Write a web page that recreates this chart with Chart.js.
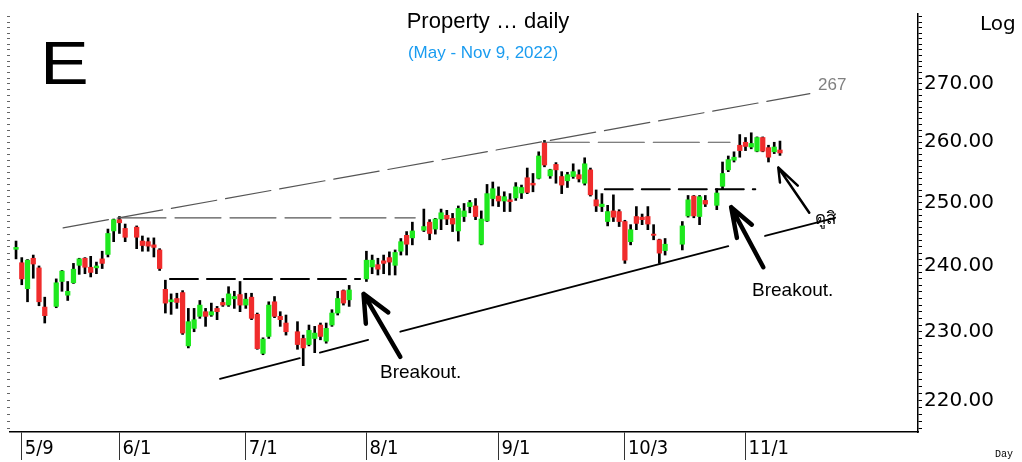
<!DOCTYPE html>
<html>
<head>
<meta charset="utf-8">
<script src="https://cdn.jsdelivr.net/npm/chart.js@4.4.0/dist/chart.umd.min.js"></script>
<style>html,body{margin:0;padding:0;background:#fff}canvas{display:block}</style>
</head>
<body>
<canvas id="c" width="1022" height="462"></canvas>
<script>
// one slot per weekday from 5/6/2022 to 11/9/2022, null = market holiday
const OPEN  = [242.6,240.5,236.5,241.2,239.7,233.7,null,233.8,237.6,235.5,237.4,240.1,241.2,239.8,239.7,241.1,241.8,245.5,247.3,245.9,null,246.1,243.9,243.8,243.3,242.5,236.4,234.5,235.0,235.9,227.9,230.5,232.3,233.0,232.5,233.5,234.4,234.0,234.95,235.6,234.0,235.2,232.6,226.8,229.3,234.5,232.3,231.3,null,230.0,229.0,228.1,229.0,231.0,228.6,231.0,232.8,236.2,234.8,null,null,238.0,239.85,240.2,240.8,241.3,240.1,242.3,244.8,244.4,null,245.6,246.9,245.8,247.4,248.0,247.5,245.5,247.8,249.4,249.5,243.4,247.1,250.7,251.1,250.3,250.5,250.8,251.6,254.1,253.2,254.0,259.9,254.4,256.3,254.3,253.6,254.3,254.6,253.2,255.4,250.5,249.4,247.0,248.7,248.6,247.0,243.8,247.8,247.7,247.8,245.0,244.1,242.4,null,null,243.4,247.9,251.1,247.8,250.4,null,249.6,252.7,255.4,257.0,259.5,260.0,259.2,258.5,260.8,259.1,258.4,258.7];
const HIGH  = [243.9,241.3,241.0,241.7,240.0,235.2,null,238.0,239.3,237.6,240.4,241.2,241.3,241.5,240.6,242.3,245.8,247.4,247.8,246.6,null,246.3,244.7,244.4,244.4,242.7,237.8,235.7,235.8,236.2,233.5,233.5,234.7,233.5,234.3,233.8,235.0,236.8,236.1,237.6,235.8,235.8,232.8,229.1,234.5,235.3,233.0,232.5,null,231.5,229.5,231.0,230.8,231.3,231.3,233.3,236.1,236.3,237.0,null,null,242.3,241.7,241.2,241.7,242.2,242.5,244.3,245.4,246.9,null,249.0,247.3,247.5,249.0,248.8,248.3,249.5,249.9,250.4,250.7,248.7,253.0,253.4,252.6,251.8,251.5,253.3,252.9,255.7,254.8,258.4,260.3,255.5,256.6,255.1,255.0,256.4,255.4,257.4,255.7,252.1,251.5,249.6,251.3,248.9,247.2,246.5,249.4,248.2,249.4,246.5,244.2,244.3,null,null,247.0,251.2,251.2,251.2,251.2,null,252.3,256.7,257.7,258.4,261.3,260.8,261.6,260.9,260.9,259.5,260.0,260.2];
const LOW   = [241.1,237.1,234.5,238.1,233.9,231.3,null,233.6,236.1,234.7,237.3,238.7,238.8,238.3,238.8,239.6,241.4,243.8,245.1,243.8,null,242.7,242.3,242.3,241.4,239.3,232.8,232.6,233.5,229.6,227.6,230.0,232.0,230.8,232.3,231.8,233.8,233.8,233.5,233.0,233.5,231.8,227.4,226.6,229.0,232.1,230.8,229.5,null,227.4,225.0,227.9,226.9,228.8,228.3,230.8,232.5,234.0,233.8,null,null,237.6,238.8,238.6,238.8,238.6,238.6,241.7,241.7,243.3,null,245.4,244.1,245.0,245.7,246.5,245.4,243.9,247.0,248.4,247.3,243.3,247.0,249.5,249.4,248.6,248.6,250.4,250.7,251.5,251.8,253.9,255.9,254.0,253.2,251.5,252.5,254.0,253.4,252.9,251.1,248.6,248.6,246.3,247.0,246.2,240.4,243.3,245.7,246.5,245.7,244.1,240.4,241.7,null,null,242.5,247.7,247.6,246.5,249.4,null,248.9,252.3,255.1,256.7,257.5,258.6,258.9,258.4,258.4,256.7,258.1,257.8];
const CLOSE = [242.9,238.0,240.9,240.3,234.5,232.4,null,237.4,239.2,236.1,239.5,241.1,239.8,239.0,240.0,240.4,245.1,247.3,246.8,244.5,null,244.5,243.2,243.1,242.9,239.6,234.3,234.8,234.4,229.8,231.5,231.8,234.0,232.3,233.0,233.0,234.0,235.7,235.3,234.0,234.9,232.0,227.5,228.9,234.0,232.3,231.8,230.0,null,228.1,227.6,230.2,229.8,229.3,230.5,232.8,235.0,234.3,236.3,null,null,240.9,240.9,239.5,240.4,240.6,242.1,243.8,243.4,245.5,null,246.2,245.1,247.4,248.4,247.4,246.6,249.1,248.7,250.05,247.8,247.4,251.5,252.3,250.3,251.0,250.2,252.6,252.5,251.7,252.9,257.7,256.2,255.4,255.4,252.9,254.6,255.1,253.9,256.4,251.3,249.5,249.8,248.6,247.7,247.0,240.9,245.7,246.7,247.3,246.6,244.8,242.0,243.4,null,null,246.3,250.5,247.9,251.0,249.8,null,251.6,254.8,257.1,257.5,258.6,259.3,259.8,260.8,258.5,257.5,259.2,258.2];

const X_TICK_SLOTS  = [1, 18, 40, 61, 84, 106, 127];
const X_TICK_LABELS = ['5/9', '6/1', '7/1', '8/1', '9/1', '10/3', '11/1'];
const Y_TICKS       = [220, 230, 240, 250, 260, 270];

// drawn lines, points as [slot, price], null = break
const TOP_LINE     = [[8.2, 246.0], [138.2, 268.3]];
const JUNE_HIGH    = [[18.1, 247.6], [69.5, 247.6]];
const SEPT_HIGH    = [[91.8, 260.0], [124.3, 260.0]];
const JULY_RESIST  = [[26.8, 238.0], [59.9, 238.0]];
const OCT_RESIST   = [[102.5, 252.2], [128.7, 252.2]];
const SUPPORT      = [[35.5, 223.1], [49.4, 226.1], null, [52.9, 226.9], [61.3, 228.8], null, [66.9, 230.0], [124.0, 243.1], null, [130.4, 244.7], [142.6, 247.6]];
const ARROW_1      = [[60.9, 231.2], [60.5, 235.7], [64.8, 232.9], null, [60.5, 235.7], [66.9, 226.3]];
const ARROW_2      = [[125.5, 244.4], [124.5, 249.3], [128.1, 246.5], null, [124.5, 249.3], [130.1, 239.8]];
const ARROW_3      = [[133.0, 253.3], [132.7, 255.8], [136.1, 252.8], null, [132.7, 255.8], [138.1, 248.4]];

const GREEN = '#1fe81f', RED = '#f02c2c';

const wicks = [], bodies = [];
OPEN.forEach((o, i) => {
  if (o === null) return;
  wicks.push({ x: i, y: [LOW[i], HIGH[i]] });
  bodies.push({ x: i, y: [o, CLOSE[i]], up: CLOSE[i] >= o });
});

const pts = arr => arr.map((p, i) => p ? { x: p[0], y: p[1] } : { x: arr[i - 1][0], y: null });

const lineSet = (data, color, width, dash) => ({
  type: 'line', data: pts(data), borderColor: color, borderWidth: width, borderDash: dash || [],
  pointRadius: 0, spanGaps: false, tension: 0, order: -1,
  borderCapStyle: 'round', borderJoinStyle: 'round'
});

const minorTicks = s => {
  const t = [];
  for (let v = 216; v <= 282; v++) t.push({ value: v });
  s.ticks = t;
};

const notes = {
  id: 'notes',
  afterDraw(chart) {
    const c = chart.ctx;
    c.save();
    c.fillStyle = '#000';
    c.textAlign = 'left';
    c.textBaseline = 'alphabetic';
    c.save();
    c.translate(40, 84);
    c.scale(1.18, 0.98);
    c.font = "62px 'Liberation Sans', Arial, sans-serif";
    c.fillText('E', 0, 0);
    c.restore();
    c.textAlign = 'center';
    c.font = "22px 'Liberation Sans', Arial, sans-serif";
    c.fillText('Property \u2026 daily', 488, 28);
    c.fillStyle = '#1a9cf0';
    c.font = "17px 'Liberation Sans', Arial, sans-serif";
    c.fillText('(May - Nov 9, 2022)', 483, 58);
    c.textAlign = 'left';
    c.fillStyle = '#808080';
    c.font = "17px 'Liberation Sans', Arial, sans-serif";
    c.fillText('267', 818, 90);
    c.fillStyle = '#000';
    c.font = "19px 'Liberation Sans', Arial, sans-serif";
    c.fillText('Breakout.', 380, 378);
    c.fillText('Breakout.', 752, 296);
    c.font = "17px 'Liberation Sans', Arial, sans-serif";
    c.fillText('ดูสิ', 815, 224);
    c.font = "20px 'DejaVu Sans', sans-serif";
    c.fillText('Log', 980, 30);
    c.font = "10px 'Liberation Mono', monospace";
    c.fillText('Day', 995, 457);
    c.restore();
  }
};

new Chart(document.getElementById('c'), {
  type: 'bar',
  data: {
    datasets: [
      { data: wicks, backgroundColor: '#000', barThickness: 2, grouped: false, order: 1, borderSkipped: false },
      { data: bodies, backgroundColor: ctx => ctx.raw && ctx.raw.up ? GREEN : RED, barThickness: 4.6,
        grouped: false, order: 0, borderSkipped: false, minBarLength: 1 },
      lineSet(TOP_LINE, '#555', 1.2, [46, 9]),
      lineSet(JUNE_HIGH, '#555', 1.2, [46, 9]),
      lineSet(SEPT_HIGH, '#555', 1.2, [46, 9]),
      lineSet(JULY_RESIST, '#000', 2, [28, 9]),
      lineSet(OCT_RESIST, '#000', 2, [28, 9]),
      lineSet(SUPPORT, '#000', 1.8),
      lineSet(ARROW_1, '#000', 4.5),
      lineSet(ARROW_2, '#000', 4.5),
      lineSet(ARROW_3, '#000', 2.5)
    ]
  },
  options: {
    responsive: false,
    animation: false,
    layout: { padding: { top: 8, left: 7, right: 0, bottom: 0 } },
    plugins: { legend: { display: false }, tooltip: { enabled: false } },
    scales: {
      x: {
        type: 'linear', min: -1.05, max: 157.03, offset: false,
        afterBuildTicks: s => { s.ticks = X_TICK_SLOTS.map(v => ({ value: v })); },
        afterFit: s => { s.height = 30; },
        grid: { offset: false, drawOnChartArea: false, drawTicks: true, tickLength: 28, color: '#333', lineWidth: 1 },
        border: { display: true, color: '#000', width: 1.5 },
        ticks: {
          autoSkip: false, maxRotation: 0, align: 'start', labelOffset: 3, padding: -23,
          color: '#000', font: { family: "'Liberation Sans Narrow', 'DejaVu Sans Condensed', sans-serif", size: 20 },
          callback: v => X_TICK_LABELS[X_TICK_SLOTS.indexOf(v)]
        }
      },
      y: {
        type: 'logarithmic', position: 'right', min: 215.55, max: 282.5,
        afterBuildTicks: minorTicks,
        afterFit: s => { s.width = 104; },
        grid: { drawOnChartArea: false, tickLength: 4, color: '#000', lineWidth: 1 },
        border: { display: true, color: '#000', width: 1.5 },
        ticks: {
          autoSkip: false, padding: 2, color: '#000',
          font: { family: "'DejaVu Sans', sans-serif", size: 20 },
          callback: v => Y_TICKS.includes(v) ? v.toFixed(2) : ''
        }
      },
      yl: {
        type: 'logarithmic', position: 'left', min: 215.55, max: 282.5,
        afterBuildTicks: minorTicks,
        afterFit: s => { s.width = 3; },
        grid: { drawOnChartArea: false, tickLength: 3, color: '#666', lineWidth: 1 },
        border: { display: false },
        ticks: { display: false, autoSkip: false }
      }
    }
  },
  plugins: [notes]
});
</script>
</body>
</html>
